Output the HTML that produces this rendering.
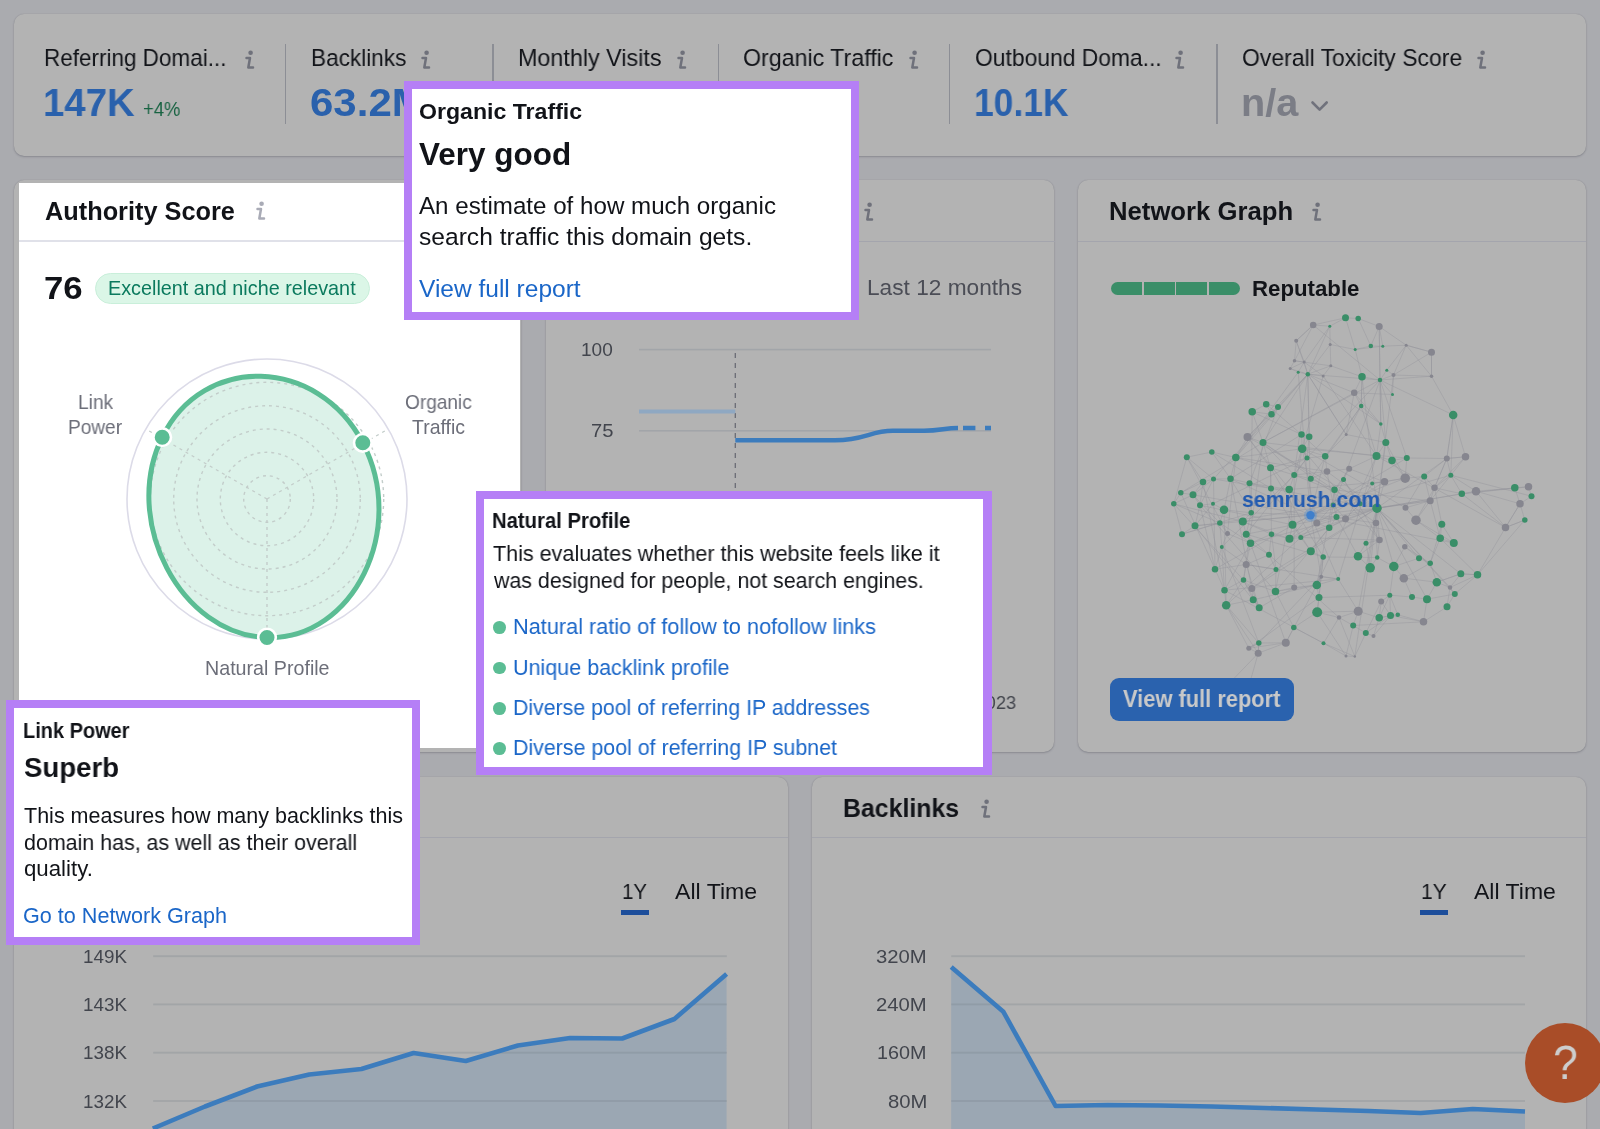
<!DOCTYPE html>
<html lang="en"><head><meta charset="utf-8"><title>Backlink Analytics overview</title>
<style>
html,body{margin:0;padding:0;background:#aaabaf;}
body{width:1600px;height:1129px;overflow:hidden;font-family:"Liberation Sans", sans-serif;}
#page{position:relative;width:1600px;height:1129px;overflow:hidden;background:#aaabaf;}
.card{position:absolute;background:#b3b3b3;border-radius:10px;box-shadow:0 1px 2px rgba(60,62,75,.28),0 0 1px rgba(60,62,75,.25);}
.sep{position:absolute;height:1.6px;background:#a4a5ad;}
.div{position:absolute;top:44px;width:1.6px;height:80px;background:#8c8e95;}
.t{position:absolute;line-height:0;white-space:nowrap;transform-origin:0 0;will-change:transform;}
.abs,.ic{position:absolute;overflow:visible;}
.hl{position:absolute;left:19px;top:183px;width:501px;height:565px;background:#fff;}
.tip{position:absolute;background:#b57ff6;}
.tipin{position:absolute;background:#fff;}
.badge{position:absolute;left:95px;top:273px;width:275px;height:31px;box-sizing:border-box;border-radius:16px;background:#dbf6e7;border:1px solid #c9efda;}
.btn{position:absolute;left:1109.5px;top:677.7px;width:184.5px;height:43.8px;border-radius:9px;background:#2a62ae;}
.ul{position:absolute;top:910px;height:5px;background:#1d4e9b;}
.seg{position:absolute;top:282px;height:13px;background:#3a8e68;}
.dot{position:absolute;width:12.8px;height:12.8px;border-radius:50%;background:#5bbd94;left:493.2px;}
.help{position:absolute;left:1524.6px;top:1022.7px;width:80.2px;height:80.2px;border-radius:50%;background:#a94d28;}
</style></head><body>
<div id="page">
  <section class="card" style="left:14px;top:14px;width:1572px;height:142px"></section>
  <div class="div" style="left:284.5px"></div><div class="div" style="left:492.4px"></div><div class="div" style="left:717.6px"></div><div class="div" style="left:948.5px"></div><div class="div" style="left:1216px"></div>
  <svg class="ic" style="left:243px;top:48.8px" width="14" height="22" viewBox="0 0 14 22"><circle cx="7.6" cy="3.7" r="2.3" fill="#6f717b"/><path d="M3.5 9H7L5.3 18.5H10" fill="none" stroke="#6f717b" stroke-width="2.5" stroke-linecap="round" stroke-linejoin="round"/></svg><svg class="ic" style="left:419px;top:48.8px" width="14" height="22" viewBox="0 0 14 22"><circle cx="7.6" cy="3.7" r="2.3" fill="#6f717b"/><path d="M3.5 9H7L5.3 18.5H10" fill="none" stroke="#6f717b" stroke-width="2.5" stroke-linecap="round" stroke-linejoin="round"/></svg><svg class="ic" style="left:675px;top:48.8px" width="14" height="22" viewBox="0 0 14 22"><circle cx="7.6" cy="3.7" r="2.3" fill="#6f717b"/><path d="M3.5 9H7L5.3 18.5H10" fill="none" stroke="#6f717b" stroke-width="2.5" stroke-linecap="round" stroke-linejoin="round"/></svg><svg class="ic" style="left:907.3px;top:48.8px" width="14" height="22" viewBox="0 0 14 22"><circle cx="7.6" cy="3.7" r="2.3" fill="#6f717b"/><path d="M3.5 9H7L5.3 18.5H10" fill="none" stroke="#6f717b" stroke-width="2.5" stroke-linecap="round" stroke-linejoin="round"/></svg><svg class="ic" style="left:1173px;top:48.8px" width="14" height="22" viewBox="0 0 14 22"><circle cx="7.6" cy="3.7" r="2.3" fill="#6f717b"/><path d="M3.5 9H7L5.3 18.5H10" fill="none" stroke="#6f717b" stroke-width="2.5" stroke-linecap="round" stroke-linejoin="round"/></svg><svg class="ic" style="left:1475px;top:48.8px" width="14" height="22" viewBox="0 0 14 22"><circle cx="7.6" cy="3.7" r="2.3" fill="#6f717b"/><path d="M3.5 9H7L5.3 18.5H10" fill="none" stroke="#6f717b" stroke-width="2.5" stroke-linecap="round" stroke-linejoin="round"/></svg>
  <svg class="abs" style="left:1310px;top:100px" width="20" height="14" viewBox="0 0 20 14"><path d="M2.5 2.5L9.6 9.6L16.7 2.5" fill="none" stroke="#70727c" stroke-width="2.6" stroke-linecap="round" stroke-linejoin="round"/></svg>

  <section class="card" style="left:14px;top:180px;width:506.5px;height:572px"></section>
  <section class="card" style="left:545.5px;top:180px;width:508.5px;height:572px"></section>
  <section class="card" style="left:1078px;top:180px;width:508px;height:572px"></section>
  <section class="card" style="left:14px;top:777px;width:774px;height:400px"></section>
  <section class="card" style="left:811.5px;top:777px;width:774.5px;height:400px"></section>
  <div class="sep" style="left:545.5px;top:240.6px;width:509px"></div>
  <div class="sep" style="left:1078px;top:240.6px;width:508px"></div>
  <div class="sep" style="left:14px;top:836.8px;width:774px"></div>
  <div class="sep" style="left:811.5px;top:836.8px;width:774.5px"></div>
  <svg class="ic" style="left:862px;top:201px" width="14" height="22" viewBox="0 0 14 22"><circle cx="7.6" cy="3.7" r="2.3" fill="#6f717b"/><path d="M3.5 9H7L5.3 18.5H10" fill="none" stroke="#6f717b" stroke-width="2.5" stroke-linecap="round" stroke-linejoin="round"/></svg><svg class="ic" style="left:1310.2px;top:201px" width="14" height="22" viewBox="0 0 14 22"><circle cx="7.6" cy="3.7" r="2.3" fill="#6f717b"/><path d="M3.5 9H7L5.3 18.5H10" fill="none" stroke="#6f717b" stroke-width="2.5" stroke-linecap="round" stroke-linejoin="round"/></svg><svg class="ic" style="left:978.5px;top:798px" width="14" height="22" viewBox="0 0 14 22"><circle cx="7.6" cy="3.7" r="2.3" fill="#6f717b"/><path d="M3.5 9H7L5.3 18.5H10" fill="none" stroke="#6f717b" stroke-width="2.5" stroke-linecap="round" stroke-linejoin="round"/></svg><svg class="ic" style="left:290px;top:798px" width="14" height="22" viewBox="0 0 14 22"><circle cx="7.6" cy="3.7" r="2.3" fill="#6f717b"/><path d="M3.5 9H7L5.3 18.5H10" fill="none" stroke="#6f717b" stroke-width="2.5" stroke-linecap="round" stroke-linejoin="round"/></svg>
  <svg class="abs" style="left:545px;top:330px" width="510" height="180" viewBox="545 330 510 180"><rect x="639" y="348.8" width="352" height="1.6" fill="#a2a5a9"/><rect x="639" y="430" width="352" height="1.6" fill="#a2a5a9"/><line x1="735.3" y1="353" x2="735.3" y2="500" stroke="#6a6c75" stroke-width="1.3" stroke-dasharray="5 5"/><line x1="639" y1="411.5" x2="735.3" y2="411.5" stroke="#8fa8c2" stroke-width="4.2"/><path d="M735.3 440.2H835C865 440.2 870 430.8 893 430.8H924C940 430.8 945 428 958 428" fill="none" stroke="#3c7cbd" stroke-width="4.4"/><path d="M963 428H975.4M985 428H991" fill="none" stroke="#3c7cbd" stroke-width="4.4"/></svg>
  <div class="seg" style="left:1110.7px;width:31px;border-radius:6.5px 0 0 6.5px"></div><div class="seg" style="left:1143.5px;width:31px"></div><div class="seg" style="left:1176.3px;width:31px"></div><div class="seg" style="left:1209.1px;width:31px;border-radius:0 6.5px 6.5px 0"></div>
  <svg class="abs" style="left:1078px;top:242px" width="508" height="510" viewBox="1078 242 508 510"><g stroke="#8f9097" stroke-width="0.9" stroke-opacity="0.4" fill="none"><path d="M1345.5 317.8L1358.2 318.5"/><path d="M1345.5 317.8L1329.8 326.2"/><path d="M1345.5 317.8L1355.2 349.5"/><path d="M1358.2 318.5L1379.2 326.5"/><path d="M1358.2 318.5L1370.8 346.0"/><path d="M1313.2 325.0L1329.8 326.2"/><path d="M1313.2 325.0L1296.2 340.8"/><path d="M1313.2 325.0L1294.5 360.8"/><path d="M1329.8 326.2L1330.2 344.5"/><path d="M1329.8 326.2L1304.2 362.0"/><path d="M1379.2 326.5L1370.8 346.0"/><path d="M1379.2 326.5L1382.8 346.2"/><path d="M1296.2 340.8L1294.5 360.8"/><path d="M1296.2 340.8L1304.2 362.0"/><path d="M1330.2 344.5L1355.2 349.5"/><path d="M1330.2 344.5L1307.8 374.2"/><path d="M1330.2 344.5L1330.8 365.8"/><path d="M1355.2 349.5L1370.8 346.0"/><path d="M1355.2 349.5L1382.8 346.2"/><path d="M1355.2 349.5L1362.0 376.8"/><path d="M1370.8 346.0L1382.8 346.2"/><path d="M1382.8 346.2L1406.2 345.2"/><path d="M1406.2 345.2L1431.5 352.2"/><path d="M1406.2 345.2L1386.8 370.2"/><path d="M1406.2 345.2L1393.5 375.0"/><path d="M1406.2 345.2L1431.5 376.2"/><path d="M1431.5 352.2L1393.5 375.0"/><path d="M1431.5 352.2L1431.5 376.2"/><path d="M1294.5 360.8L1304.2 362.0"/><path d="M1294.5 360.8L1290.2 368.5"/><path d="M1294.5 360.8L1330.8 365.8"/><path d="M1304.2 362.0L1290.2 368.5"/><path d="M1304.2 362.0L1298.2 372.2"/><path d="M1304.2 362.0L1307.8 374.2"/><path d="M1304.2 362.0L1323.2 376.0"/><path d="M1290.2 368.5L1298.2 372.2"/><path d="M1298.2 372.2L1307.8 374.2"/><path d="M1298.2 372.2L1235.8 457.5"/><path d="M1307.8 374.2L1330.8 365.8"/><path d="M1307.8 374.2L1323.2 376.0"/><path d="M1307.8 374.2L1309.2 436.8"/><path d="M1330.8 365.8L1323.2 376.0"/><path d="M1330.8 365.8L1362.0 376.8"/><path d="M1323.2 376.0L1294.2 475.0"/><path d="M1362.0 376.8L1380.0 380.0"/><path d="M1362.0 376.8L1354.2 392.8"/><path d="M1362.0 376.8L1361.2 406.0"/><path d="M1380.0 380.0L1386.8 370.2"/><path d="M1380.0 380.0L1393.5 375.0"/><path d="M1380.0 380.0L1392.5 394.5"/><path d="M1386.8 370.2L1393.5 375.0"/><path d="M1393.5 375.0L1431.5 376.2"/><path d="M1393.5 375.0L1392.5 394.5"/><path d="M1354.2 392.8L1392.5 394.5"/><path d="M1354.2 392.8L1361.2 406.0"/><path d="M1354.2 392.8L1380.8 424.0"/><path d="M1354.2 392.8L1346.2 434.5"/><path d="M1361.2 406.0L1380.8 424.0"/><path d="M1361.2 406.0L1346.2 434.5"/><path d="M1361.2 406.0L1325.2 456.2"/><path d="M1361.2 406.0L1310.8 478.8"/><path d="M1453.2 415.0L1446.8 458.5"/><path d="M1453.2 415.0L1465.5 456.8"/><path d="M1453.2 415.0L1450.8 475.2"/><path d="M1266.2 404.2L1278.0 407.0"/><path d="M1266.2 404.2L1252.2 411.8"/><path d="M1266.2 404.2L1271.5 414.2"/><path d="M1266.2 404.2L1301.5 434.5"/><path d="M1278.0 407.0L1271.5 414.2"/><path d="M1278.0 407.0L1247.5 437.0"/><path d="M1278.0 407.0L1249.5 483.2"/><path d="M1252.2 411.8L1271.5 414.2"/><path d="M1252.2 411.8L1301.5 434.5"/><path d="M1252.2 411.8L1263.0 442.5"/><path d="M1252.2 411.8L1251.2 512.8"/><path d="M1380.8 424.0L1385.8 442.5"/><path d="M1380.8 424.0L1376.5 456.0"/><path d="M1346.2 434.5L1385.8 442.5"/><path d="M1346.2 434.5L1325.2 456.2"/><path d="M1247.5 437.0L1263.0 442.5"/><path d="M1247.5 437.0L1235.8 457.5"/><path d="M1247.5 437.0L1270.5 467.8"/><path d="M1301.5 434.5L1309.2 436.8"/><path d="M1301.5 434.5L1302.2 448.8"/><path d="M1301.5 434.5L1325.2 456.2"/><path d="M1301.5 434.5L1230.5 478.8"/><path d="M1309.2 436.8L1302.2 448.8"/><path d="M1309.2 436.8L1307.0 458.0"/><path d="M1263.0 442.5L1270.5 467.8"/><path d="M1263.0 442.5L1334.5 489.8"/><path d="M1302.2 448.8L1235.8 457.5"/><path d="M1302.2 448.8L1307.0 458.0"/><path d="M1302.2 448.8L1325.2 456.2"/><path d="M1385.8 442.5L1376.5 456.0"/><path d="M1385.8 442.5L1392.0 460.5"/><path d="M1385.8 442.5L1405.2 478.2"/><path d="M1211.8 452.0L1186.8 457.2"/><path d="M1211.8 452.0L1235.8 457.5"/><path d="M1211.8 452.0L1230.5 478.8"/><path d="M1211.8 452.0L1271.0 488.5"/><path d="M1186.8 457.2L1203.0 482.0"/><path d="M1186.8 457.2L1213.5 479.0"/><path d="M1186.8 457.2L1173.8 503.8"/><path d="M1186.8 457.2L1227.5 533.5"/><path d="M1235.8 457.5L1270.5 467.8"/><path d="M1235.8 457.5L1327.0 471.5"/><path d="M1235.8 457.5L1230.5 478.8"/><path d="M1235.8 457.5L1227.5 533.5"/><path d="M1307.0 458.0L1325.2 456.2"/><path d="M1307.0 458.0L1270.5 467.8"/><path d="M1307.0 458.0L1294.2 475.0"/><path d="M1307.0 458.0L1213.0 503.8"/><path d="M1307.0 458.0L1246.2 534.2"/><path d="M1325.2 456.2L1327.0 471.5"/><path d="M1376.5 456.0L1392.0 460.5"/><path d="M1376.5 456.0L1349.2 468.8"/><path d="M1392.0 460.5L1406.8 458.0"/><path d="M1392.0 460.5L1405.2 478.2"/><path d="M1406.8 458.0L1446.8 458.5"/><path d="M1406.8 458.0L1405.2 478.2"/><path d="M1446.8 458.5L1465.5 456.8"/><path d="M1446.8 458.5L1450.8 475.2"/><path d="M1446.8 458.5L1434.5 487.8"/><path d="M1465.5 456.8L1450.8 475.2"/><path d="M1465.5 456.8L1434.5 487.8"/><path d="M1270.5 467.8L1294.2 475.0"/><path d="M1270.5 467.8L1271.0 488.5"/><path d="M1270.5 467.8L1271.5 534.2"/><path d="M1270.5 467.8L1323.2 557.0"/><path d="M1327.0 471.5L1349.2 468.8"/><path d="M1327.0 471.5L1294.2 475.0"/><path d="M1327.0 471.5L1310.8 478.8"/><path d="M1327.0 471.5L1333.2 505.0"/><path d="M1349.2 468.8L1343.5 479.5"/><path d="M1349.2 468.8L1384.5 481.8"/><path d="M1349.2 468.8L1334.5 489.8"/><path d="M1294.2 475.0L1310.8 478.8"/><path d="M1294.2 475.0L1289.2 489.5"/><path d="M1294.2 475.0L1221.8 547.0"/><path d="M1294.2 475.0L1294.2 587.5"/><path d="M1310.8 478.8L1334.5 489.8"/><path d="M1343.5 479.5L1334.5 489.8"/><path d="M1343.5 479.5L1360.0 503.8"/><path d="M1343.5 479.5L1333.2 505.0"/><path d="M1343.5 479.5L1379.5 540.0"/><path d="M1372.2 483.5L1384.5 481.8"/><path d="M1372.2 483.5L1405.2 478.2"/><path d="M1372.2 483.5L1360.0 503.8"/><path d="M1384.5 481.8L1405.2 478.2"/><path d="M1384.5 481.8L1289.2 489.5"/><path d="M1384.5 481.8L1316.8 523.0"/><path d="M1405.2 478.2L1424.2 476.5"/><path d="M1424.2 476.5L1434.5 487.8"/><path d="M1424.2 476.5L1405.5 507.8"/><path d="M1424.2 476.5L1430.2 500.8"/><path d="M1450.8 475.2L1434.5 487.8"/><path d="M1450.8 475.2L1461.8 493.8"/><path d="M1450.8 475.2L1476.0 491.2"/><path d="M1450.8 475.2L1531.5 496.2"/><path d="M1450.8 475.2L1430.2 500.8"/><path d="M1203.0 482.0L1213.5 479.0"/><path d="M1203.0 482.0L1180.8 492.8"/><path d="M1203.0 482.0L1193.0 494.8"/><path d="M1203.0 482.0L1200.0 505.2"/><path d="M1203.0 482.0L1224.5 590.2"/><path d="M1213.5 479.0L1230.5 478.8"/><path d="M1213.5 479.0L1271.0 488.5"/><path d="M1213.5 479.0L1193.0 494.8"/><path d="M1213.5 479.0L1200.0 505.2"/><path d="M1213.5 479.0L1215.0 569.2"/><path d="M1230.5 478.8L1249.5 483.2"/><path d="M1230.5 478.8L1224.0 509.8"/><path d="M1230.5 478.8L1251.2 512.8"/><path d="M1230.5 478.8L1251.8 588.5"/><path d="M1249.5 483.2L1271.0 488.5"/><path d="M1249.5 483.2L1289.2 489.5"/><path d="M1249.5 483.2L1251.2 512.8"/><path d="M1271.0 488.5L1289.2 489.5"/><path d="M1271.0 488.5L1310.8 551.2"/><path d="M1289.2 489.5L1292.5 524.8"/><path d="M1334.5 489.8L1336.5 517.0"/><path d="M1334.5 489.8L1333.2 505.0"/><path d="M1334.5 489.8L1430.2 500.8"/><path d="M1334.5 489.8L1316.8 585.0"/><path d="M1180.8 492.8L1193.0 494.8"/><path d="M1180.8 492.8L1173.8 503.8"/><path d="M1180.8 492.8L1215.0 569.2"/><path d="M1193.0 494.8L1173.8 503.8"/><path d="M1193.0 494.8L1200.0 505.2"/><path d="M1193.0 494.8L1219.8 523.0"/><path d="M1434.5 487.8L1461.8 493.8"/><path d="M1434.5 487.8L1430.2 500.8"/><path d="M1434.5 487.8L1416.0 520.2"/><path d="M1434.5 487.8L1441.8 524.2"/><path d="M1461.8 493.8L1476.0 491.2"/><path d="M1461.8 493.8L1514.8 487.8"/><path d="M1461.8 493.8L1528.5 486.8"/><path d="M1476.0 491.2L1520.0 503.8"/><path d="M1476.0 491.2L1505.5 527.5"/><path d="M1514.8 487.8L1528.5 486.8"/><path d="M1514.8 487.8L1520.0 503.8"/><path d="M1528.5 486.8L1531.5 496.2"/><path d="M1531.5 496.2L1520.0 503.8"/><path d="M1173.8 503.8L1219.8 523.0"/><path d="M1173.8 503.8L1242.8 521.5"/><path d="M1173.8 503.8L1182.0 534.2"/><path d="M1173.8 503.8L1243.5 580.0"/><path d="M1200.0 505.2L1213.0 503.8"/><path d="M1200.0 505.2L1195.0 525.8"/><path d="M1200.0 505.2L1292.5 524.8"/><path d="M1200.0 505.2L1215.0 569.2"/><path d="M1200.0 505.2L1275.5 591.5"/><path d="M1213.0 503.8L1224.0 509.8"/><path d="M1213.0 503.8L1195.0 525.8"/><path d="M1224.0 509.8L1251.2 512.8"/><path d="M1224.0 509.8L1219.8 523.0"/><path d="M1224.0 509.8L1226.2 605.2"/><path d="M1251.2 512.8L1242.8 521.5"/><path d="M1251.2 512.8L1182.0 534.2"/><path d="M1251.2 512.8L1246.2 534.2"/><path d="M1316.8 523.0L1336.5 517.0"/><path d="M1316.8 523.0L1333.2 505.0"/><path d="M1316.8 523.0L1329.2 527.8"/><path d="M1316.8 523.0L1289.5 538.8"/><path d="M1316.8 523.0L1300.8 537.5"/><path d="M1336.5 517.0L1345.5 518.8"/><path d="M1336.5 517.0L1333.2 505.0"/><path d="M1336.5 517.0L1329.2 527.8"/><path d="M1336.5 517.0L1358.0 556.2"/><path d="M1345.5 518.8L1360.0 503.8"/><path d="M1345.5 518.8L1333.2 505.0"/><path d="M1345.5 518.8L1376.0 523.0"/><path d="M1345.5 518.8L1329.2 527.8"/><path d="M1377.0 508.2L1360.0 503.8"/><path d="M1377.0 508.2L1376.0 523.0"/><path d="M1377.0 508.2L1289.5 538.8"/><path d="M1377.0 508.2L1366.0 543.2"/><path d="M1377.0 508.2L1379.5 540.0"/><path d="M1333.2 505.0L1219.8 523.0"/><path d="M1333.2 505.0L1292.5 524.8"/><path d="M1333.2 505.0L1329.2 527.8"/><path d="M1405.5 507.8L1430.2 500.8"/><path d="M1405.5 507.8L1416.0 520.2"/><path d="M1430.2 500.8L1416.0 520.2"/><path d="M1430.2 500.8L1440.2 538.2"/><path d="M1416.0 520.2L1440.2 538.2"/><path d="M1416.0 520.2L1453.8 543.0"/><path d="M1376.0 523.0L1379.5 540.0"/><path d="M1376.0 523.0L1377.2 557.5"/><path d="M1441.8 524.2L1440.2 538.2"/><path d="M1441.8 524.2L1453.8 543.0"/><path d="M1441.8 524.2L1430.2 563.2"/><path d="M1520.0 503.8L1524.8 520.0"/><path d="M1520.0 503.8L1505.5 527.5"/><path d="M1524.8 520.0L1505.5 527.5"/><path d="M1524.8 520.0L1477.5 574.8"/><path d="M1195.0 525.8L1219.8 523.0"/><path d="M1195.0 525.8L1182.0 534.2"/><path d="M1195.0 525.8L1259.2 607.8"/><path d="M1219.8 523.0L1182.0 534.2"/><path d="M1219.8 523.0L1227.5 533.5"/><path d="M1219.8 523.0L1221.8 547.0"/><path d="M1219.8 523.0L1269.0 554.8"/><path d="M1242.8 521.5L1246.2 534.2"/><path d="M1242.8 521.5L1271.5 534.2"/><path d="M1242.8 521.5L1289.5 538.8"/><path d="M1292.5 524.8L1289.5 538.8"/><path d="M1292.5 524.8L1300.8 537.5"/><path d="M1329.2 527.8L1300.8 537.5"/><path d="M1329.2 527.8L1310.8 551.2"/><path d="M1329.2 527.8L1275.5 591.5"/><path d="M1227.5 533.5L1250.5 543.2"/><path d="M1227.5 533.5L1221.8 547.0"/><path d="M1246.2 534.2L1250.5 543.2"/><path d="M1246.2 534.2L1323.2 557.0"/><path d="M1246.2 534.2L1269.0 554.8"/><path d="M1271.5 534.2L1289.5 538.8"/><path d="M1271.5 534.2L1250.5 543.2"/><path d="M1271.5 534.2L1269.0 554.8"/><path d="M1271.5 534.2L1276.0 569.5"/><path d="M1289.5 538.8L1300.8 537.5"/><path d="M1300.8 537.5L1379.5 540.0"/><path d="M1300.8 537.5L1310.8 551.2"/><path d="M1300.8 537.5L1226.2 605.2"/><path d="M1250.5 543.2L1246.2 564.5"/><path d="M1250.5 543.2L1224.5 590.2"/><path d="M1250.5 543.2L1285.8 642.8"/><path d="M1221.8 547.0L1246.2 564.5"/><path d="M1221.8 547.0L1215.0 569.2"/><path d="M1221.8 547.0L1224.5 590.2"/><path d="M1221.8 547.0L1258.8 643.0"/><path d="M1366.0 543.2L1379.5 540.0"/><path d="M1366.0 543.2L1358.0 556.2"/><path d="M1366.0 543.2L1370.2 567.8"/><path d="M1379.5 540.0L1358.0 556.2"/><path d="M1379.5 540.0L1377.2 557.5"/><path d="M1404.8 546.8L1419.0 558.2"/><path d="M1404.8 546.8L1430.2 563.2"/><path d="M1404.8 546.8L1393.8 566.5"/><path d="M1440.2 538.2L1453.8 543.0"/><path d="M1440.2 538.2L1430.2 563.2"/><path d="M1440.2 538.2L1477.5 574.8"/><path d="M1310.8 551.2L1323.2 557.0"/><path d="M1323.2 557.0L1377.2 557.5"/><path d="M1323.2 557.0L1321.2 576.8"/><path d="M1323.2 557.0L1316.8 585.0"/><path d="M1323.2 557.0L1319.0 597.5"/><path d="M1269.0 554.8L1246.2 564.5"/><path d="M1269.0 554.8L1276.0 569.5"/><path d="M1269.0 554.8L1339.0 617.5"/><path d="M1358.0 556.2L1370.2 567.8"/><path d="M1377.2 557.5L1370.2 567.8"/><path d="M1377.2 557.5L1393.8 566.5"/><path d="M1419.0 558.2L1430.2 563.2"/><path d="M1419.0 558.2L1393.8 566.5"/><path d="M1430.2 563.2L1403.8 578.2"/><path d="M1430.2 563.2L1436.8 582.2"/><path d="M1246.2 564.5L1215.0 569.2"/><path d="M1246.2 564.5L1276.0 569.5"/><path d="M1246.2 564.5L1338.2 579.0"/><path d="M1246.2 564.5L1243.5 580.0"/><path d="M1246.2 564.5L1259.2 607.8"/><path d="M1215.0 569.2L1224.5 590.2"/><path d="M1276.0 569.5L1251.8 588.5"/><path d="M1276.0 569.5L1275.5 591.5"/><path d="M1393.8 566.5L1403.8 578.2"/><path d="M1393.8 566.5L1389.8 595.2"/><path d="M1321.2 576.8L1338.2 579.0"/><path d="M1321.2 576.8L1316.8 585.0"/><path d="M1321.2 576.8L1317.2 612.2"/><path d="M1321.2 576.8L1258.8 643.0"/><path d="M1321.2 576.8L1285.8 642.8"/><path d="M1338.2 579.0L1224.5 590.2"/><path d="M1338.2 579.0L1316.8 585.0"/><path d="M1338.2 579.0L1358.2 611.2"/><path d="M1403.8 578.2L1436.8 582.2"/><path d="M1403.8 578.2L1412.0 597.0"/><path d="M1460.8 573.8L1477.5 574.8"/><path d="M1460.8 573.8L1436.8 582.2"/><path d="M1460.8 573.8L1450.0 587.5"/><path d="M1477.5 574.8L1450.0 587.5"/><path d="M1477.5 574.8L1454.8 594.0"/><path d="M1436.8 582.2L1450.0 587.5"/><path d="M1436.8 582.2L1427.0 599.2"/><path d="M1243.5 580.0L1251.8 588.5"/><path d="M1243.5 580.0L1224.5 590.2"/><path d="M1243.5 580.0L1275.5 591.5"/><path d="M1243.5 580.0L1253.2 599.8"/><path d="M1243.5 580.0L1226.2 605.2"/><path d="M1243.5 580.0L1259.2 607.8"/><path d="M1251.8 588.5L1253.2 599.8"/><path d="M1251.8 588.5L1259.2 607.8"/><path d="M1224.5 590.2L1226.2 605.2"/><path d="M1224.5 590.2L1323.5 643.2"/><path d="M1275.5 591.5L1294.2 587.5"/><path d="M1275.5 591.5L1316.8 585.0"/><path d="M1275.5 591.5L1293.8 627.5"/><path d="M1294.2 587.5L1316.8 585.0"/><path d="M1294.2 587.5L1259.2 607.8"/><path d="M1316.8 585.0L1319.0 597.5"/><path d="M1316.8 585.0L1253.2 599.8"/><path d="M1450.0 587.5L1454.8 594.0"/><path d="M1450.0 587.5L1447.0 606.8"/><path d="M1454.8 594.0L1427.0 599.2"/><path d="M1454.8 594.0L1447.0 606.8"/><path d="M1389.8 595.2L1412.0 597.0"/><path d="M1389.8 595.2L1319.0 597.5"/><path d="M1389.8 595.2L1381.2 601.5"/><path d="M1389.8 595.2L1379.2 617.8"/><path d="M1389.8 595.2L1390.5 615.5"/><path d="M1389.8 595.2L1397.8 614.8"/><path d="M1412.0 597.0L1427.0 599.2"/><path d="M1427.0 599.2L1423.5 621.8"/><path d="M1319.0 597.5L1317.2 612.2"/><path d="M1319.0 597.5L1248.8 648.2"/><path d="M1253.2 599.8L1226.2 605.2"/><path d="M1253.2 599.8L1259.2 607.8"/><path d="M1381.2 601.5L1379.2 617.8"/><path d="M1381.2 601.5L1390.5 615.5"/><path d="M1381.2 601.5L1365.8 633.0"/><path d="M1226.2 605.2L1258.8 643.0"/><path d="M1226.2 605.2L1248.8 648.2"/><path d="M1226.2 605.2L1258.2 653.2"/><path d="M1447.0 606.8L1423.5 621.8"/><path d="M1317.2 612.2L1358.2 611.2"/><path d="M1317.2 612.2L1339.0 617.5"/><path d="M1317.2 612.2L1293.8 627.5"/><path d="M1317.2 612.2L1346.0 656.0"/><path d="M1358.2 611.2L1339.0 617.5"/><path d="M1358.2 611.2L1379.2 617.8"/><path d="M1358.2 611.2L1353.2 625.5"/><path d="M1339.0 617.5L1353.2 625.5"/><path d="M1339.0 617.5L1323.5 643.2"/><path d="M1339.0 617.5L1354.8 656.5"/><path d="M1379.2 617.8L1390.5 615.5"/><path d="M1379.2 617.8L1397.8 614.8"/><path d="M1379.2 617.8L1373.5 636.0"/><path d="M1390.5 615.5L1397.8 614.8"/><path d="M1390.5 615.5L1423.5 621.8"/><path d="M1390.5 615.5L1365.8 633.0"/><path d="M1390.5 615.5L1373.5 636.0"/><path d="M1397.8 614.8L1423.5 621.8"/><path d="M1353.2 625.5L1365.8 633.0"/><path d="M1353.2 625.5L1346.0 656.0"/><path d="M1293.8 627.5L1285.8 642.8"/><path d="M1293.8 627.5L1323.5 643.2"/><path d="M1365.8 633.0L1373.5 636.0"/><path d="M1365.8 633.0L1354.8 656.5"/><path d="M1258.8 643.0L1285.8 642.8"/><path d="M1258.8 643.0L1248.8 648.2"/><path d="M1258.8 643.0L1258.2 653.2"/><path d="M1285.8 642.8L1248.8 648.2"/><path d="M1285.8 642.8L1258.2 653.2"/><path d="M1323.5 643.2L1346.0 656.0"/><path d="M1323.5 643.2L1354.8 656.5"/><path d="M1248.8 648.2L1258.2 653.2"/><path d="M1346.0 656.0L1354.8 656.5"/><path d="M1310.5 515.2L1298.2 372.2"/><path d="M1310.5 515.2L1450.8 475.2"/><path d="M1310.5 515.2L1453.8 543.0"/><path d="M1310.5 515.2L1406.8 458.0"/><path d="M1310.5 515.2L1251.2 512.8"/><path d="M1310.5 515.2L1372.2 483.5"/><path d="M1310.5 515.2L1321.2 576.8"/><path d="M1310.5 515.2L1195.0 525.8"/><path d="M1310.5 515.2L1405.2 478.2"/><path d="M1310.5 515.2L1309.2 436.8"/><path d="M1310.5 515.2L1336.5 517.0"/><path d="M1310.5 515.2L1230.5 478.8"/><path d="M1310.5 515.2L1193.0 494.8"/><path d="M1310.5 515.2L1338.2 579.0"/><path d="M1310.5 515.2L1289.5 538.8"/><path d="M1310.5 515.2L1215.0 569.2"/><path d="M1310.5 515.2L1325.2 456.2"/><path d="M1310.5 515.2L1247.5 437.0"/><path d="M1377.0 508.2L1460.8 573.8"/><path d="M1377.0 508.2L1461.8 493.8"/><path d="M1377.0 508.2L1430.2 500.8"/><path d="M1377.0 508.2L1446.8 458.5"/><path d="M1377.0 508.2L1246.2 534.2"/><path d="M1377.0 508.2L1327.0 471.5"/><path d="M1377.0 508.2L1450.0 587.5"/><path d="M1377.0 508.2L1271.0 488.5"/><path d="M1377.0 508.2L1393.5 375.0"/><path d="M1377.0 508.2L1358.2 611.2"/><path d="M1377.0 508.2L1300.8 537.5"/><path d="M1377.0 508.2L1276.0 569.5"/><path d="M1377.0 508.2L1247.5 437.0"/><path d="M1377.0 508.2L1454.8 594.0"/><path d="M1377.0 508.2L1242.8 521.5"/><path d="M1377.0 508.2L1362.0 376.8"/><path d="M1377.0 508.2L1370.2 567.8"/><path d="M1377.0 508.2L1385.8 442.5"/><path d="M1377.0 508.2L1294.2 475.0"/><path d="M1377.0 508.2L1250.5 543.2"/><path d="M1377.0 508.2L1419.0 558.2"/><path d="M1377.0 508.2L1393.8 566.5"/><path d="M1377.0 508.2L1354.8 656.5"/><path d="M1377.0 508.2L1427.0 599.2"/><path d="M1377.0 508.2L1251.8 588.5"/><path d="M1377.0 508.2L1384.5 481.8"/><path d="M1307.8 374.2L1290.2 368.5"/><path d="M1307.8 374.2L1380.8 424.0"/><path d="M1307.8 374.2L1213.5 479.0"/><path d="M1307.8 374.2L1247.5 437.0"/><path d="M1307.8 374.2L1329.8 326.2"/><path d="M1307.8 374.2L1235.8 457.5"/><path d="M1307.8 374.2L1294.2 475.0"/><path d="M1307.8 374.2L1346.2 434.5"/><path d="M1307.8 374.2L1263.0 442.5"/><path d="M1380.0 380.0L1343.5 479.5"/><path d="M1380.0 380.0L1307.0 458.0"/><path d="M1380.0 380.0L1380.8 424.0"/><path d="M1380.0 380.0L1406.8 458.0"/><path d="M1380.0 380.0L1379.2 326.5"/><path d="M1380.0 380.0L1313.2 325.0"/><path d="M1380.0 380.0L1263.0 442.5"/><path d="M1380.0 380.0L1453.2 415.0"/><path d="M1380.0 380.0L1307.8 374.2"/><path d="M1302.2 448.8L1316.8 523.0"/><path d="M1302.2 448.8L1406.8 458.0"/><path d="M1302.2 448.8L1379.5 540.0"/><path d="M1302.2 448.8L1405.5 507.8"/><path d="M1302.2 448.8L1275.5 591.5"/><path d="M1302.2 448.8L1307.0 458.0"/><path d="M1263.0 442.5L1376.5 456.0"/><path d="M1263.0 442.5L1243.5 580.0"/><path d="M1263.0 442.5L1180.8 492.8"/><path d="M1263.0 442.5L1376.0 523.0"/><path d="M1263.0 442.5L1294.2 475.0"/><path d="M1376.5 456.0L1505.5 527.5"/><path d="M1376.5 456.0L1338.2 579.0"/><path d="M1376.5 456.0L1361.2 406.0"/><path d="M1376.5 456.0L1323.2 376.0"/><path d="M1376.5 456.0L1316.8 585.0"/><path d="M1431.5 352.2L1431.5 376.2"/><path d="M1431.5 376.2L1453.2 415.0"/><path d="M1453.2 415.0L1446.8 458.5"/><path d="M1379.2 326.5L1406.2 345.2"/><path d="M1406.2 345.2L1431.5 352.2"/><path d="M1380.0 380.0L1431.5 376.2"/><path d="M1313.2 325.0L1345.5 317.8"/><path d="M1313.2 325.0L1296.2 340.8"/><path d="M1296.2 340.8L1307.8 374.2"/><path d="M1307.8 374.2L1346.2 434.5"/><path d="M1307.8 374.2L1309.2 436.8"/><path d="M1307.8 374.2L1354.2 392.8"/><path d="M1380.0 380.0L1380.8 424.0"/><path d="M1380.0 380.0L1385.8 442.5"/><path d="M1380.0 380.0L1379.2 326.5"/><path d="M1354.2 392.8L1263.0 442.5"/><path d="M1361.2 406.0L1362.0 376.8"/><path d="M1446.8 458.5L1465.5 456.8"/><path d="M1446.8 458.5L1424.2 476.5"/><path d="M1446.8 458.5L1434.5 487.8"/><path d="M1505.5 527.5L1477.5 574.8"/><path d="M1505.5 527.5L1520.0 503.8"/><path d="M1505.5 527.5L1524.8 520.0"/><path d="M1461.8 493.8L1505.5 527.5"/><path d="M1476.0 491.2L1514.8 488.0"/><path d="M1423.5 621.8L1353.2 625.5"/><path d="M1377.0 508.2L1461.8 493.8"/><path d="M1377.0 508.2L1430.2 500.8"/><path d="M1477.5 574.8L1460.8 573.8"/><path d="M1436.8 582.2L1460.8 573.8"/><path d="M1258.25 653.25L1232.5 680M1258.25 653.25L1250 682M1258.75 643L1258.25 653.25M1248.75 648.25L1258.75 643"/></g><circle cx="1345.5" cy="317.8" r="3.50" fill="#3a8e68"/><circle cx="1358.2" cy="318.5" r="2.75" fill="#3a8e68"/><circle cx="1313.2" cy="325.0" r="3.25" fill="#86868f"/><circle cx="1329.8" cy="326.2" r="1.50" fill="#3a8e68"/><circle cx="1379.2" cy="326.5" r="3.50" fill="#86868f"/><circle cx="1296.2" cy="340.8" r="2.00" fill="#86868f"/><circle cx="1330.2" cy="344.5" r="1.50" fill="#86868f"/><circle cx="1355.2" cy="349.5" r="1.50" fill="#3a8e68"/><circle cx="1370.8" cy="346.0" r="2.25" fill="#3a8e68"/><circle cx="1382.8" cy="346.2" r="1.50" fill="#3a8e68"/><circle cx="1406.2" cy="345.2" r="1.50" fill="#86868f"/><circle cx="1431.5" cy="352.2" r="3.50" fill="#86868f"/><circle cx="1294.5" cy="360.8" r="1.75" fill="#86868f"/><circle cx="1304.2" cy="362.0" r="1.50" fill="#86868f"/><circle cx="1290.2" cy="368.5" r="1.50" fill="#86868f"/><circle cx="1298.2" cy="372.2" r="1.50" fill="#3a8e68"/><circle cx="1307.8" cy="374.2" r="2.25" fill="#3a8e68"/><circle cx="1330.8" cy="365.8" r="1.50" fill="#86868f"/><circle cx="1323.2" cy="376.0" r="1.50" fill="#86868f"/><circle cx="1362.0" cy="376.8" r="3.75" fill="#3a8e68"/><circle cx="1380.0" cy="380.0" r="2.25" fill="#3a8e68"/><circle cx="1386.8" cy="370.2" r="1.50" fill="#3a8e68"/><circle cx="1393.5" cy="375.0" r="2.00" fill="#86868f"/><circle cx="1431.5" cy="376.2" r="1.75" fill="#86868f"/><circle cx="1354.2" cy="392.8" r="3.25" fill="#86868f"/><circle cx="1392.5" cy="394.5" r="1.50" fill="#3a8e68"/><circle cx="1361.2" cy="406.0" r="2.25" fill="#3a8e68"/><circle cx="1453.2" cy="415.0" r="4.25" fill="#3a8e68"/><circle cx="1266.2" cy="404.2" r="3.25" fill="#3a8e68"/><circle cx="1278.0" cy="407.0" r="3.00" fill="#3a8e68"/><circle cx="1252.2" cy="411.8" r="3.75" fill="#3a8e68"/><circle cx="1271.5" cy="414.2" r="3.25" fill="#3a8e68"/><circle cx="1380.8" cy="424.0" r="1.75" fill="#3a8e68"/><circle cx="1346.2" cy="434.5" r="1.50" fill="#86868f"/><circle cx="1247.5" cy="437.0" r="4.00" fill="#86868f"/><circle cx="1301.5" cy="434.5" r="3.25" fill="#3a8e68"/><circle cx="1309.2" cy="436.8" r="3.25" fill="#3a8e68"/><circle cx="1263.0" cy="442.5" r="3.50" fill="#3a8e68"/><circle cx="1302.2" cy="448.8" r="4.25" fill="#3a8e68"/><circle cx="1385.8" cy="442.5" r="3.50" fill="#3a8e68"/><circle cx="1211.8" cy="452.0" r="2.75" fill="#3a8e68"/><circle cx="1186.8" cy="457.2" r="3.00" fill="#3a8e68"/><circle cx="1235.8" cy="457.5" r="3.75" fill="#3a8e68"/><circle cx="1307.0" cy="458.0" r="2.50" fill="#3a8e68"/><circle cx="1325.2" cy="456.2" r="3.25" fill="#3a8e68"/><circle cx="1376.5" cy="456.0" r="4.00" fill="#3a8e68"/><circle cx="1392.0" cy="460.5" r="3.75" fill="#3a8e68"/><circle cx="1406.8" cy="458.0" r="3.00" fill="#3a8e68"/><circle cx="1446.8" cy="458.5" r="3.00" fill="#86868f"/><circle cx="1465.5" cy="456.8" r="3.75" fill="#86868f"/><circle cx="1270.5" cy="467.8" r="3.50" fill="#3a8e68"/><circle cx="1327.0" cy="471.5" r="3.25" fill="#86868f"/><circle cx="1349.2" cy="468.8" r="3.00" fill="#86868f"/><circle cx="1294.2" cy="475.0" r="3.00" fill="#3a8e68"/><circle cx="1310.8" cy="478.8" r="3.00" fill="#3a8e68"/><circle cx="1343.5" cy="479.5" r="2.50" fill="#3a8e68"/><circle cx="1372.2" cy="483.5" r="2.00" fill="#3a8e68"/><circle cx="1384.5" cy="481.8" r="3.75" fill="#86868f"/><circle cx="1405.2" cy="478.2" r="4.75" fill="#86868f"/><circle cx="1424.2" cy="476.5" r="3.00" fill="#3a8e68"/><circle cx="1450.8" cy="475.2" r="2.50" fill="#3a8e68"/><circle cx="1203.0" cy="482.0" r="3.25" fill="#3a8e68"/><circle cx="1213.5" cy="479.0" r="2.50" fill="#3a8e68"/><circle cx="1230.5" cy="478.8" r="3.25" fill="#3a8e68"/><circle cx="1249.5" cy="483.2" r="3.00" fill="#3a8e68"/><circle cx="1271.0" cy="488.5" r="3.00" fill="#3a8e68"/><circle cx="1289.2" cy="489.5" r="3.75" fill="#3a8e68"/><circle cx="1334.5" cy="489.8" r="3.25" fill="#3a8e68"/><circle cx="1180.8" cy="492.8" r="2.75" fill="#3a8e68"/><circle cx="1193.0" cy="494.8" r="3.50" fill="#3a8e68"/><circle cx="1434.5" cy="487.8" r="3.25" fill="#86868f"/><circle cx="1461.8" cy="493.8" r="3.25" fill="#3a8e68"/><circle cx="1476.0" cy="491.2" r="4.25" fill="#86868f"/><circle cx="1514.8" cy="487.8" r="3.75" fill="#3a8e68"/><circle cx="1528.5" cy="486.8" r="3.75" fill="#86868f"/><circle cx="1531.5" cy="496.2" r="3.00" fill="#3a8e68"/><circle cx="1173.8" cy="503.8" r="2.75" fill="#3a8e68"/><circle cx="1200.0" cy="505.2" r="3.00" fill="#3a8e68"/><circle cx="1213.0" cy="503.8" r="2.00" fill="#3a8e68"/><circle cx="1224.0" cy="509.8" r="4.25" fill="#3a8e68"/><circle cx="1251.2" cy="512.8" r="2.75" fill="#3a8e68"/><circle cx="1316.8" cy="523.0" r="3.50" fill="#86868f"/><circle cx="1336.5" cy="517.0" r="3.00" fill="#3a8e68"/><circle cx="1345.5" cy="518.8" r="3.50" fill="#86868f"/><circle cx="1377.0" cy="508.2" r="4.75" fill="#3a8e68"/><circle cx="1360.0" cy="503.8" r="2.50" fill="#3a8e68"/><circle cx="1333.2" cy="505.0" r="2.50" fill="#3a8e68"/><circle cx="1405.5" cy="507.8" r="3.00" fill="#86868f"/><circle cx="1430.2" cy="500.8" r="3.50" fill="#86868f"/><circle cx="1416.0" cy="520.2" r="4.75" fill="#86868f"/><circle cx="1376.0" cy="523.0" r="3.25" fill="#86868f"/><circle cx="1441.8" cy="524.2" r="3.50" fill="#3a8e68"/><circle cx="1520.0" cy="503.8" r="3.75" fill="#86868f"/><circle cx="1524.8" cy="520.0" r="2.75" fill="#3a8e68"/><circle cx="1505.5" cy="527.5" r="3.75" fill="#86868f"/><circle cx="1195.0" cy="525.8" r="3.50" fill="#3a8e68"/><circle cx="1219.8" cy="523.0" r="2.75" fill="#3a8e68"/><circle cx="1242.8" cy="521.5" r="4.00" fill="#3a8e68"/><circle cx="1292.5" cy="524.8" r="4.00" fill="#3a8e68"/><circle cx="1329.2" cy="527.8" r="3.25" fill="#3a8e68"/><circle cx="1182.0" cy="534.2" r="3.00" fill="#3a8e68"/><circle cx="1227.5" cy="533.5" r="2.50" fill="#86868f"/><circle cx="1246.2" cy="534.2" r="3.50" fill="#3a8e68"/><circle cx="1271.5" cy="534.2" r="2.75" fill="#3a8e68"/><circle cx="1289.5" cy="538.8" r="4.00" fill="#3a8e68"/><circle cx="1300.8" cy="537.5" r="2.50" fill="#3a8e68"/><circle cx="1250.5" cy="543.2" r="3.75" fill="#3a8e68"/><circle cx="1221.8" cy="547.0" r="2.00" fill="#3a8e68"/><circle cx="1366.0" cy="543.2" r="2.50" fill="#3a8e68"/><circle cx="1379.5" cy="540.0" r="3.25" fill="#86868f"/><circle cx="1404.8" cy="546.8" r="2.75" fill="#86868f"/><circle cx="1440.2" cy="538.2" r="3.75" fill="#3a8e68"/><circle cx="1453.8" cy="543.0" r="4.00" fill="#3a8e68"/><circle cx="1310.8" cy="551.2" r="4.00" fill="#3a8e68"/><circle cx="1323.2" cy="557.0" r="2.75" fill="#3a8e68"/><circle cx="1269.0" cy="554.8" r="3.00" fill="#3a8e68"/><circle cx="1358.0" cy="556.2" r="4.25" fill="#3a8e68"/><circle cx="1377.2" cy="557.5" r="2.25" fill="#3a8e68"/><circle cx="1419.0" cy="558.2" r="3.00" fill="#3a8e68"/><circle cx="1430.2" cy="563.2" r="2.75" fill="#3a8e68"/><circle cx="1246.2" cy="564.5" r="3.50" fill="#86868f"/><circle cx="1215.0" cy="569.2" r="3.25" fill="#3a8e68"/><circle cx="1276.0" cy="569.5" r="2.50" fill="#3a8e68"/><circle cx="1370.2" cy="567.8" r="4.75" fill="#3a8e68"/><circle cx="1393.8" cy="566.5" r="4.75" fill="#3a8e68"/><circle cx="1321.2" cy="576.8" r="2.00" fill="#86868f"/><circle cx="1338.2" cy="579.0" r="2.00" fill="#3a8e68"/><circle cx="1403.8" cy="578.2" r="4.25" fill="#86868f"/><circle cx="1460.8" cy="573.8" r="3.50" fill="#3a8e68"/><circle cx="1477.5" cy="574.8" r="3.75" fill="#3a8e68"/><circle cx="1436.8" cy="582.2" r="4.25" fill="#3a8e68"/><circle cx="1243.5" cy="580.0" r="2.75" fill="#3a8e68"/><circle cx="1251.8" cy="588.5" r="3.50" fill="#86868f"/><circle cx="1224.5" cy="590.2" r="3.25" fill="#3a8e68"/><circle cx="1275.5" cy="591.5" r="3.75" fill="#3a8e68"/><circle cx="1294.2" cy="587.5" r="3.00" fill="#86868f"/><circle cx="1316.8" cy="585.0" r="4.25" fill="#3a8e68"/><circle cx="1450.0" cy="587.5" r="2.25" fill="#86868f"/><circle cx="1454.8" cy="594.0" r="3.00" fill="#3a8e68"/><circle cx="1389.8" cy="595.2" r="2.50" fill="#3a8e68"/><circle cx="1412.0" cy="597.0" r="3.00" fill="#3a8e68"/><circle cx="1427.0" cy="599.2" r="4.00" fill="#3a8e68"/><circle cx="1319.0" cy="597.5" r="3.50" fill="#3a8e68"/><circle cx="1253.2" cy="599.8" r="3.50" fill="#3a8e68"/><circle cx="1381.2" cy="601.5" r="3.00" fill="#86868f"/><circle cx="1226.2" cy="605.2" r="4.25" fill="#3a8e68"/><circle cx="1259.2" cy="607.8" r="3.50" fill="#3a8e68"/><circle cx="1447.0" cy="606.8" r="3.50" fill="#3a8e68"/><circle cx="1317.2" cy="612.2" r="5.00" fill="#3a8e68"/><circle cx="1358.2" cy="611.2" r="4.50" fill="#86868f"/><circle cx="1339.0" cy="617.5" r="2.25" fill="#86868f"/><circle cx="1379.2" cy="617.8" r="3.75" fill="#3a8e68"/><circle cx="1390.5" cy="615.5" r="3.50" fill="#3a8e68"/><circle cx="1397.8" cy="614.8" r="2.25" fill="#3a8e68"/><circle cx="1423.5" cy="621.8" r="3.75" fill="#86868f"/><circle cx="1353.2" cy="625.5" r="3.00" fill="#3a8e68"/><circle cx="1293.8" cy="627.5" r="2.75" fill="#3a8e68"/><circle cx="1365.8" cy="633.0" r="3.00" fill="#3a8e68"/><circle cx="1373.5" cy="636.0" r="2.00" fill="#86868f"/><circle cx="1258.8" cy="643.0" r="2.75" fill="#3a8e68"/><circle cx="1285.8" cy="642.8" r="4.00" fill="#86868f"/><circle cx="1323.5" cy="643.2" r="2.00" fill="#3a8e68"/><circle cx="1248.8" cy="648.2" r="2.50" fill="#86868f"/><circle cx="1258.2" cy="653.2" r="3.50" fill="#86868f"/><circle cx="1346.0" cy="656.0" r="1.50" fill="#86868f"/><circle cx="1354.8" cy="656.5" r="1.20" fill="#86868f"/><circle cx="1310.5" cy="515.25" r="6.5" fill="#4d8ed6" fill-opacity="0.35"/><circle cx="1310.5" cy="515.25" r="4.2" fill="#3f7fcb"/></svg>
  <div class="btn"></div>
  <div class="ul" style="left:621px;width:28px"></div><div class="ul" style="left:1420.4px;width:28px"></div>
  <svg class="abs" style="left:0;top:930px" width="1600" height="199" viewBox="0 930 1600 199"><polygon points="152.8,1135 152.8,1128.5 205.0,1106.5 257.1,1086.5 309.3,1074.5 361.4,1069.0 413.6,1053.0 465.8,1061.0 517.9,1045.5 570.1,1038.0 622.2,1038.5 674.4,1019.0 726.6,974.0 726.6,1135" fill="#9ba7b3"/><rect x="153.2" y="955.3" width="573.5999999999999" height="1.8" fill="#6e7d82" fill-opacity="0.25"/><rect x="153.2" y="1003.5" width="573.5999999999999" height="1.8" fill="#6e7d82" fill-opacity="0.25"/><rect x="153.2" y="1051.8" width="573.5999999999999" height="1.8" fill="#6e7d82" fill-opacity="0.25"/><rect x="153.2" y="1100.1" width="573.5999999999999" height="1.8" fill="#6e7d82" fill-opacity="0.25"/><polyline points="152.8,1128.5 205.0,1106.5 257.1,1086.5 309.3,1074.5 361.4,1069.0 413.6,1053.0 465.8,1061.0 517.9,1045.5 570.1,1038.0 622.2,1038.5 674.4,1019.0 726.6,974.0" fill="none" stroke="#3c7cbd" stroke-width="4.6" stroke-linejoin="round"/><polygon points="951.2,1135 951.2,967.0 1003.4,1011.8 1055.6,1106.0 1107.7,1105.0 1159.9,1105.5 1212.0,1106.5 1264.2,1108.0 1316.4,1109.5 1368.5,1111.0 1420.7,1113.0 1472.8,1109.0 1525.0,1111.5 1525.0,1135" fill="#9ba7b3"/><rect x="951.25" y="955.3" width="573.75" height="1.8" fill="#6e7d82" fill-opacity="0.25"/><rect x="951.25" y="1003.5" width="573.75" height="1.8" fill="#6e7d82" fill-opacity="0.25"/><rect x="951.25" y="1051.8" width="573.75" height="1.8" fill="#6e7d82" fill-opacity="0.25"/><rect x="951.25" y="1100.1" width="573.75" height="1.8" fill="#6e7d82" fill-opacity="0.25"/><polyline points="951.2,967.0 1003.4,1011.8 1055.6,1106.0 1107.7,1105.0 1159.9,1105.5 1212.0,1106.5 1264.2,1108.0 1316.4,1109.5 1368.5,1111.0 1420.7,1113.0 1472.8,1109.0 1525.0,1111.5" fill="none" stroke="#3c7cbd" stroke-width="4.6" stroke-linejoin="round"/></svg>
  <span class="t" style="left:44.06px;top:58.44px;font-size:23.84px;color:#121419;font-weight:400;transform:scaleX(0.9438)">Referring Domai...</span><span class="t" style="left:310.55px;top:58.44px;font-size:23.84px;color:#121419;font-weight:400;transform:scaleX(0.9476)">Backlinks</span><span class="t" style="left:518.42px;top:58.44px;font-size:23.84px;color:#121419;font-weight:400;transform:scaleX(0.9791)">Monthly Visits</span><span class="t" style="left:742.83px;top:58.44px;font-size:23.84px;color:#121419;font-weight:400;transform:scaleX(0.9736)">Organic Traffic</span><span class="t" style="left:974.79px;top:58.44px;font-size:23.84px;color:#121419;font-weight:400;transform:scaleX(0.9592)">Outbound Doma...</span><span class="t" style="left:1242.04px;top:58.44px;font-size:23.84px;color:#121419;font-weight:400;transform:scaleX(0.9626)">Overall Toxicity Score</span><span class="t" style="left:43.07px;top:102.05px;font-size:39.68px;color:#2a61ac;font-weight:700;transform:scaleX(0.9658)">147K</span><span class="t" style="left:143.00px;top:109.00px;font-size:19.62px;color:#186342;font-weight:400;transform:scaleX(0.9401)">+4%</span><span class="t" style="left:310.44px;top:102.05px;font-size:39.68px;color:#2a61ac;font-weight:700;transform:scaleX(1.0586)">63.2M</span><span class="t" style="left:973.97px;top:102.05px;font-size:39.68px;color:#2a61ac;font-weight:700;transform:scaleX(0.8924)">10.1K</span><span class="t" style="left:1241.01px;top:101.55px;font-size:39.68px;color:#7b7d86;font-weight:700;transform:scaleX(0.9955)">n/a</span><span class="t" style="left:576.00px;top:211.09px;font-size:25.15px;color:#121419;font-weight:700;transform:scaleX(0.9861)">Authority Score Trend</span><span class="t" style="left:867.27px;top:288.19px;font-size:21.95px;color:#4b4d56;font-weight:400;transform:scaleX(1.0334)">Last 12 months</span><span class="t" style="left:581.26px;top:350.06px;font-size:18.31px;color:#42454d;font-weight:400;transform:scaleX(1.0391)">100</span><span class="t" style="left:590.50px;top:431.26px;font-size:18.31px;color:#42454d;font-weight:400;transform:scaleX(1.1053)">75</span><span class="t" style="left:938.00px;top:702.96px;font-size:18.6px;color:#42454d;font-weight:400;transform:scaleX(0.9814)">Sep 2023</span><span class="t" style="left:1108.68px;top:210.94px;font-size:25.29px;color:#121419;font-weight:700;transform:scaleX(1.0158)">Network Graph</span><span class="t" style="left:1251.99px;top:288.55px;font-size:22.09px;color:#121419;font-weight:700;transform:scaleX(1.0071)">Reputable</span><span class="t" style="left:1123.30px;top:698.79px;font-size:23.69px;color:#c9c9c9;font-weight:700;transform:scaleX(0.9222)">View full report</span><span class="t" style="left:44.04px;top:807.74px;font-size:25.29px;color:#121419;font-weight:700;transform:scaleX(0.9640)">Referring Domains</span><span class="t" style="left:843.02px;top:807.74px;font-size:25.29px;color:#121419;font-weight:700;transform:scaleX(0.9830)">Backlinks</span><span class="t" style="left:622.01px;top:890.64px;font-size:22.97px;color:#121419;font-weight:400;transform:scaleX(0.8889)">1Y</span><span class="t" style="left:674.50px;top:890.64px;font-size:22.97px;color:#121419;font-weight:400;transform:scaleX(1.0047)">All Time</span><span class="t" style="left:1420.58px;top:890.64px;font-size:22.97px;color:#121419;font-weight:400;transform:scaleX(0.9151)">1Y</span><span class="t" style="left:1473.50px;top:890.64px;font-size:22.97px;color:#121419;font-weight:400;transform:scaleX(1.0022)">All Time</span><span class="t" style="left:83.37px;top:956.86px;font-size:18.31px;color:#42454d;font-weight:400;transform:scaleX(1.0282)">149K</span><span class="t" style="left:83.37px;top:1004.96px;font-size:18.31px;color:#42454d;font-weight:400;transform:scaleX(1.0282)">143K</span><span class="t" style="left:83.37px;top:1053.36px;font-size:18.31px;color:#42454d;font-weight:400;transform:scaleX(1.0282)">138K</span><span class="t" style="left:83.37px;top:1101.56px;font-size:18.31px;color:#42454d;font-weight:400;transform:scaleX(1.0282)">132K</span><span class="t" style="left:876.25px;top:956.56px;font-size:18.31px;color:#42454d;font-weight:400;transform:scaleX(1.1061)">320M</span><span class="t" style="left:876.25px;top:1004.81px;font-size:18.31px;color:#42454d;font-weight:400;transform:scaleX(1.1061)">240M</span><span class="t" style="left:877.42px;top:1053.06px;font-size:18.31px;color:#42454d;font-weight:400;transform:scaleX(1.0798)">160M</span><span class="t" style="left:887.50px;top:1101.81px;font-size:18.31px;color:#42454d;font-weight:400;transform:scaleX(1.1062)">80M</span><span class="t" style="left:1242.00px;top:499.79px;font-size:22.24px;color:#235bb0;font-weight:700;transform:scaleX(0.9561)">semrush.com</span>

  <div class="hl"></div>
  <div class="sep" style="left:19px;top:240.2px;width:501px;background:#e0e1e9"></div>
  <svg class="ic" style="left:254.4px;top:199.6px" width="14" height="22" viewBox="0 0 14 22"><circle cx="7.6" cy="3.7" r="2.3" fill="#a9abb6"/><path d="M3.5 9H7L5.3 18.5H10" fill="none" stroke="#a9abb6" stroke-width="2.5" stroke-linecap="round" stroke-linejoin="round"/></svg>
  <div class="badge"></div>
  <svg class="abs" style="left:0;top:0" width="560" height="760" viewBox="0 0 560 760"><circle cx="267" cy="499" r="140" fill="none" stroke="#dcdbe8" stroke-width="1.6"/><path d="M162.2,437.2C203.4,353.5 317.7,356.7 362.8,442.8C407.9,528.9 353.3,639.9 267.0,637.5C180.7,635.1 121.0,520.9 162.2,437.2Z" fill="#dcf2e9"/><circle cx="267" cy="499" r="23.3" fill="none" stroke="#c3cdca" stroke-width="1.4" stroke-dasharray="3 4"/><circle cx="267" cy="499" r="46.7" fill="none" stroke="#c3cdca" stroke-width="1.4" stroke-dasharray="3 4"/><circle cx="267" cy="499" r="70.0" fill="none" stroke="#c3cdca" stroke-width="1.4" stroke-dasharray="3 4"/><circle cx="267" cy="499" r="93.3" fill="none" stroke="#c3cdca" stroke-width="1.4" stroke-dasharray="3 4"/><circle cx="267" cy="499" r="116.7" fill="none" stroke="#c3cdca" stroke-width="1.4" stroke-dasharray="3 4"/><line x1="267" y1="499" x2="145.8" y2="429.0" stroke="#c3cdca" stroke-width="1.4" stroke-dasharray="3 4"/><line x1="267" y1="499" x2="388.2" y2="429.0" stroke="#c3cdca" stroke-width="1.4" stroke-dasharray="3 4"/><line x1="267" y1="499" x2="267.0" y2="639.0" stroke="#c3cdca" stroke-width="1.4" stroke-dasharray="3 4"/><path d="M162.2,437.2C203.4,353.5 317.7,356.7 362.8,442.8C407.9,528.9 353.3,639.9 267.0,637.5C180.7,635.1 121.0,520.9 162.2,437.2Z" fill="none" stroke="#5bbd94" stroke-width="5"/><circle cx="162.2" cy="437.2" r="8.8" fill="#5bbd94" stroke="#fff" stroke-width="2.6"/><circle cx="362.8" cy="442.8" r="8.8" fill="#5bbd94" stroke="#fff" stroke-width="2.6"/><circle cx="267.0" cy="637.5" r="8.8" fill="#5bbd94" stroke="#fff" stroke-width="2.6"/></svg>
  <span class="t" style="left:45.00px;top:211.24px;font-size:25.0px;color:#111318;font-weight:700;transform:scaleX(1.0127)">Authority Score</span><span class="t" style="left:43.86px;top:288.02px;font-size:30.52px;color:#111318;font-weight:700;transform:scaleX(1.1385)">76</span><span class="t" style="left:107.98px;top:287.95px;font-size:19.48px;color:#0b7a5e;font-weight:400;transform:scaleX(1.0169)">Excellent and niche relevant</span><span class="t" style="left:77.92px;top:402.45px;font-size:19.48px;color:#6c6e79;font-weight:400;transform:scaleX(0.9834)">Link</span><span class="t" style="left:68.32px;top:427.25px;font-size:19.48px;color:#6c6e79;font-weight:400;transform:scaleX(0.9799)">Power</span><span class="t" style="left:405.00px;top:402.45px;font-size:19.48px;color:#6c6e79;font-weight:400;transform:scaleX(0.9790)">Organic</span><span class="t" style="left:412.30px;top:427.25px;font-size:19.48px;color:#6c6e79;font-weight:400;transform:scaleX(1.0005)">Traffic</span><span class="t" style="left:204.79px;top:667.95px;font-size:19.48px;color:#6c6e79;font-weight:400;transform:scaleX(1.0097)">Natural Profile</span>

  <aside class="tip" style="left:404.1px;top:81px;width:454.9px;height:238.8px"><div class="tipin" style="left:8.1px;top:7.9px;width:438.8px;height:222.8px"></div></aside>
  <aside class="tip" style="left:476.1px;top:490.9px;width:515.7px;height:283.9px"><div class="tipin" style="left:8.2px;top:8.3px;width:498.3px;height:267.4px"></div></aside>
  <aside class="tip" style="left:5.9px;top:699.5px;width:413.9px;height:245.3px"><div class="tipin" style="left:8.3px;top:8.3px;width:397.5px;height:228.9px"></div></aside>
  <div class="dot" style="top:621.4px"></div><div class="dot" style="top:661.7px"></div><div class="dot" style="top:702px"></div><div class="dot" style="top:741.8px"></div>
  <span class="t" style="left:419.40px;top:111.59px;font-size:22.53px;color:#111318;font-weight:700;transform:scaleX(1.0266)">Organic Traffic</span><span class="t" style="left:419.40px;top:153.77px;font-size:30.67px;color:#111318;font-weight:700;transform:scaleX(1.0268)">Very good</span><span class="t" style="left:419.40px;top:206.14px;font-size:23.55px;color:#111318;font-weight:400;transform:scaleX(1.0253)">An estimate of how much organic</span><span class="t" style="left:419.40px;top:236.64px;font-size:23.55px;color:#111318;font-weight:400;transform:scaleX(1.0449)">search traffic this domain gets.</span><span class="t" style="left:419.40px;top:289.14px;font-size:23.55px;color:#1a66c8;font-weight:400;transform:scaleX(1.0407)">View full report</span><span class="t" style="left:492.27px;top:521.25px;font-size:21.8px;color:#111318;font-weight:700;transform:scaleX(0.9293)">Natural Profile</span><span class="t" style="left:493.20px;top:553.75px;font-size:21.8px;color:#111318;font-weight:400;transform:scaleX(0.9882)">This evaluates whether this website feels like it</span><span class="t" style="left:494.18px;top:580.85px;font-size:21.8px;color:#111318;font-weight:400;transform:scaleX(0.9799)">was designed for people, not search engines.</span><span class="t" style="left:512.70px;top:627.35px;font-size:21.8px;color:#1a66c8;font-weight:400;transform:scaleX(0.9954)">Natural ratio of follow to nofollow links</span><span class="t" style="left:512.71px;top:667.65px;font-size:21.8px;color:#1a66c8;font-weight:400;transform:scaleX(0.9868)">Unique backlink profile</span><span class="t" style="left:512.72px;top:708.05px;font-size:21.8px;color:#1a66c8;font-weight:400;transform:scaleX(0.9765)">Diverse pool of referring IP addresses</span><span class="t" style="left:512.72px;top:747.55px;font-size:21.8px;color:#1a66c8;font-weight:400;transform:scaleX(0.9806)">Diverse pool of referring IP subnet</span><span class="t" style="left:22.67px;top:730.95px;font-size:21.51px;color:#111318;font-weight:700;transform:scaleX(0.9289)">Link Power</span><span class="t" style="left:23.60px;top:767.43px;font-size:28.49px;color:#111318;font-weight:700;transform:scaleX(0.9680)">Superb</span><span class="t" style="left:23.60px;top:815.55px;font-size:21.51px;color:#111318;font-weight:400;transform:scaleX(1.0004)">This measures how many backlinks this</span><span class="t" style="left:23.60px;top:842.55px;font-size:21.51px;color:#111318;font-weight:400;transform:scaleX(0.9957)">domain has, as well as their overall</span><span class="t" style="left:23.60px;top:869.35px;font-size:21.51px;color:#111318;font-weight:400;transform:scaleX(1.0343)">quality.</span><span class="t" style="left:22.60px;top:916.35px;font-size:21.51px;color:#1a66c8;font-weight:400;transform:scaleX(1.0046)">Go to Network Graph</span>
  <div class="help"></div>
  <span class="t" style="left:1553.07px;top:1063.38px;font-size:47.97px;color:#cdcdcd;font-weight:400;transform:scaleX(0.9292)">?</span>
</div>
</body></html>
